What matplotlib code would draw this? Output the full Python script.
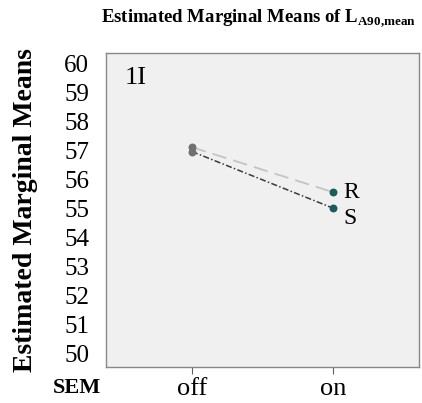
import matplotlib.pyplot as plt

plt.rcParams['font.family'] = ['Liberation Serif', 'DejaVu Serif']
plt.rcParams['mathtext.fontset'] = 'custom'
plt.rcParams['mathtext.rm'] = 'Liberation Serif'
plt.rcParams['mathtext.bf'] = 'Liberation Serif:bold'

# estimated marginal means of L_A90,mean by SEM state
sem_levels = ['off', 'on']
means_R = [57.1, 55.55]
means_S = [56.95, 55.0]
y_ticks = list(range(50, 61))

fig = plt.figure(figsize=(4.22, 4.03), dpi=100)
ax = fig.add_axes([0.251, 0.089, 0.742, 0.779])
ax.set_facecolor('#f0f0f0')

x = list(range(len(sem_levels)))
ax.plot(x, means_R, color='#c4c4c4', lw=1.3, ls=(0, (8, 4)), zorder=2)
ax.plot(x, means_S, color='#3a3a3a', lw=1.1, ls=(0, (4, 1.5, 1, 1.5)), zorder=2)
ax.scatter([0, 0], [means_R[0], means_S[0]], s=22, color='#707070', zorder=3)
ax.scatter([1, 1], [means_R[1], means_S[1]], s=22, color='#1d5a5e', zorder=3)

ax.text(1.07, means_R[1], 'R', fontsize=17, va='center', ha='left')
ax.text(1.07, means_S[1] - 0.35, 'S', fontsize=17, va='center', ha='left')
ax.text(0.06, 0.92, '1I', transform=ax.transAxes, fontsize=19, va='center')

ax.set_xlim(-0.61, 1.61)
ax.set_ylim(49.52, 60.34)
ax.set_xticks(x)
ax.set_xticklabels(sem_levels, fontsize=19)
ax.set_yticks(y_ticks)
ax.set_yticklabels([str(v) for v in y_ticks], fontsize=18)
ax.tick_params(axis='y', length=0, pad=12)
ax.tick_params(axis='x', direction='out', length=5, pad=3, color='#606060')

for s in ax.spines.values():
    s.set_color('#888888')
    s.set_linewidth(1.0)

ax.set_ylabel('Estimated Marginal Means', fontsize=20, fontweight='bold', labelpad=19)
fig.text(0.183, 0.037, 'SEM', fontsize=16, fontweight='bold', ha='center', va='center')
fig.text(0.612, 0.955, r'Estimated Marginal Means of L$_{\mathbf{A90{,}mean}}$',
         fontsize=13.5, fontweight='bold', ha='center', va='center')

fig.savefig('out.png', dpi=100)
